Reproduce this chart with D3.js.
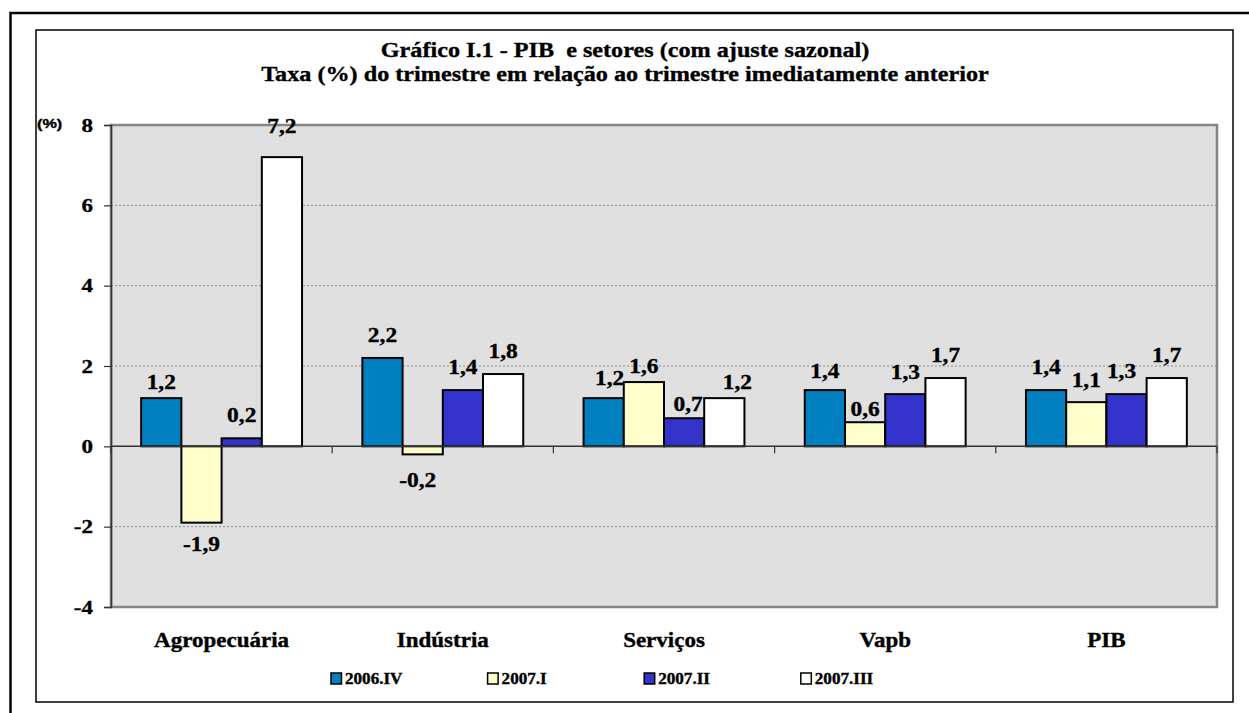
<!DOCTYPE html>
<html>
<head>
<meta charset="utf-8">
<script src="https://cdn.jsdelivr.net/npm/d3@7"></script>
<style>
  html, body { margin: 0; padding: 0; background: #ffffff; }
  svg { display: block; }
  text { font-family: "Liberation Serif", "Times New Roman", serif; font-weight: bold; fill: #000;
         stroke: #000; stroke-width: 0.35px; }
</style>
</head>
<body>
<svg id="chart" width="1249" height="713"></svg>
<script>
// Sectors on the category axis
const categories = ["Agropecuária", "Indústria", "Serviços", "Vapb", "PIB"];
// Quarters shown as bar series
const seriesNames = ["2006.IV", "2007.I", "2007.II", "2007.III"];
// Quarter-on-quarter growth (%), one array per quarter, ordered like categories
const s2006IV  = [1.2, 2.2, 1.2, 1.4, 1.4];
const s2007I   = [-1.9, -0.2, 1.6, 0.6, 1.1];
const s2007II  = [0.2, 1.4, 0.7, 1.3, 1.3];
const s2007III = [7.2, 1.8, 1.2, 1.7, 1.7];
const yTicks = [-4, -2, 0, 2, 4, 6, 8];
const titleLines = [
  "Gráfico I.1 - PIB  e setores (com ajuste sazonal)",
  "Taxa (%) do trimestre em relação ao trimestre imediatamente anterior"
];

const seriesValues = [s2006IV, s2007I, s2007II, s2007III];
const colors = ["#0080c0", "#ffffcc", "#3333cc", "#ffffff"];

// small hand placements of value labels (dx, dy) keyed "category|series"
const labelNudge = {
  "0|0": [0, 7], "0|3": [0, -8],
  "1|1": [-5, 5],
  "2|0": [6, 3], "2|1": [0, 7], "2|2": [4, 9], "2|3": [13, 7],
  "3|0": [0, 4], "3|1": [0, 10], "3|2": [0, 1],
  "4|1": [0, 1], "4|2": [-5, 0]
};

// decimal comma and plain hyphen for negatives
const fmt = v => d3.format(".1f")(v).replace(".", ",").replace("\u2212", "-");

const svg = d3.select("#chart");

// helper: horizontally widened bold text anchored at (x, y)
function txt(parent, x, y, str, size, sx, anchor, family) {
  const t = parent.append("text")
    .attr("transform", `translate(${x},${y}) scale(${sx},1)`)
    .attr("text-anchor", anchor || "middle")
    .style("font-size", size + "px")
    .style("white-space", "pre")
    .text(str);
  if (family) t.style("font-family", family);
  return t;
}

// outer and inner frames
svg.append("rect").attr("x", 10.5).attr("y", 13).attr("width", 1300).attr("height", 800)
  .attr("fill", "none").attr("stroke", "#000").attr("stroke-width", 2.5);
svg.append("rect").attr("x", 36).attr("y", 30).attr("width", 1197).attr("height", 672)
  .attr("fill", "#fff").attr("stroke", "#000").attr("stroke-width", 1.5);

// title
titleLines.forEach((line, i) => txt(svg, 625, 57 + i * 24, line, 22, 1.1));

// plot area
const plot = { left: 111, right: 1217, top: 125, bottom: 607 };
const y = d3.scaleLinear().domain([-4, 8]).range([plot.bottom, plot.top]);
const x0 = d3.scaleBand().domain(categories).range([plot.left, plot.right]).padding(0);
const x1 = d3.scaleBand().domain(seriesNames).range([0, x0.bandwidth()])
  .paddingInner(0).paddingOuter(0.75);

svg.append("rect")
  .attr("x", plot.left).attr("y", plot.top)
  .attr("width", plot.right - plot.left).attr("height", plot.bottom - plot.top)
  .attr("fill", "#e0e0e0").attr("stroke", "#858585").attr("stroke-width", 2.5);

// dotted gridlines
svg.append("g").selectAll("line")
  .data(yTicks.filter(v => v !== 0 && v !== 8 && v !== -4))
  .join("line")
  .attr("x1", plot.left).attr("x2", plot.right)
  .attr("y1", d => y(d)).attr("y2", d => y(d))
  .attr("stroke", "#8c8c8c").attr("stroke-width", 1).attr("stroke-dasharray", "2,2");

// y axis
const yAxis = svg.append("g")
  .attr("transform", `translate(${plot.left},0)`)
  .call(d3.axisLeft(y).tickValues(yTicks).tickSize(7).tickFormat(""));
yAxis.select(".domain").attr("stroke", "#333").attr("stroke-width", 1.5);
yAxis.selectAll(".tick line").attr("stroke", "#333").attr("stroke-width", 1.2);
yTicks.forEach(v => txt(svg, 93, y(v) + 6.5, fmt(v).replace(",0", ""), 19.5, 1.18, "end"));
txt(svg, 37, 128, "(%)", 12.5, 1.3, "start", "'Liberation Sans', Arial, sans-serif");

// bars
const bars = svg.append("g");
categories.forEach((cat, ci) => {
  seriesNames.forEach((sn, si) => {
    const v = seriesValues[si][ci];
    bars.append("rect")
      .attr("x", x0(cat) + x1(sn))
      .attr("y", y(Math.max(0, v)))
      .attr("width", x1.bandwidth())
      .attr("height", Math.abs(y(v) - y(0)))
      .attr("fill", colors[si])
      .attr("stroke", "#000").attr("stroke-width", 2);
  });
});

// zero line with category separators
svg.append("line")
  .attr("x1", plot.left).attr("x2", plot.right)
  .attr("y1", y(0)).attr("y2", y(0))
  .attr("stroke", "#333").attr("stroke-width", 1.5);
const catEdges = categories.map(c => x0(c)).concat([x0.range()[1]]);
svg.append("g").selectAll("line").data(catEdges).join("line")
  .attr("x1", d => d).attr("x2", d => d)
  .attr("y1", y(0)).attr("y2", y(0) + 7)
  .attr("stroke", "#333").attr("stroke-width", 1.2);

// value labels
const labels = svg.append("g");
categories.forEach((cat, ci) => {
  seriesNames.forEach((sn, si) => {
    const v = seriesValues[si][ci];
    const n = labelNudge[ci + "|" + si] || [0, 0];
    const cx = x0(cat) + x1(sn) + x1.bandwidth() / 2 + n[0];
    const by = (v >= 0 ? y(v) - 16 : y(v) + 28) + n[1];
    txt(labels, cx, by, fmt(v), 20, 1.17);
  });
});

// category labels
categories.forEach(cat => txt(svg, x0(cat) + x0.bandwidth() / 2, 646.5, cat, 20, 1.15));

// legend
const legStart = 331, legStep = 156.6;
seriesNames.forEach((sn, i) => {
  const lx = legStart + i * legStep;
  svg.append("rect").attr("x", lx).attr("y", 673).attr("width", 10.5).attr("height", 11)
    .attr("fill", colors[i]).attr("stroke", "#000").attr("stroke-width", 1.5);
  txt(svg, lx + 14, 684, sn, 16, 1.07, "start");
});
</script>
</body>
</html>
